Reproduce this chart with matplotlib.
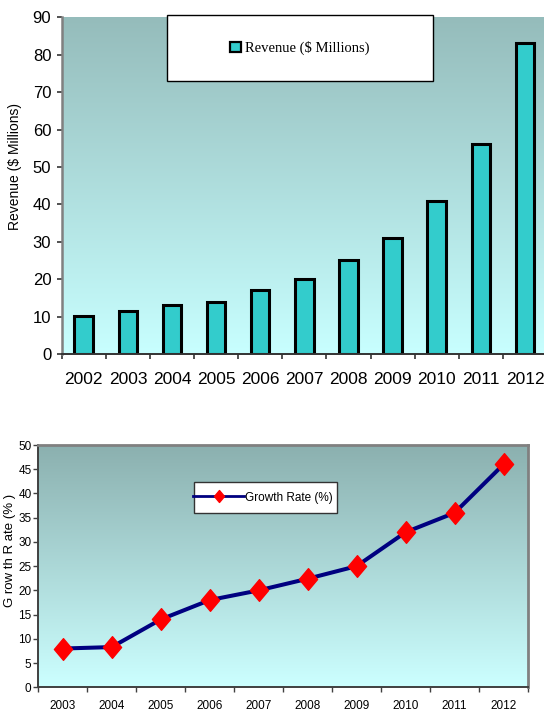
import numpy as np
import matplotlib
matplotlib.use("Agg")
import matplotlib.pyplot as plt
from matplotlib import font_manager
from matplotlib.patches import Rectangle, Patch
from matplotlib.lines import Line2D
from matplotlib.path import Path
from matplotlib.colors import LinearSegmentedColormap

# ---- data ----
revenue_years = ["2002", "2003", "2004", "2005", "2006", "2007",
                 "2008", "2009", "2010", "2011", "2012"]
revenue = [10.2, 11.5, 13, 14, 17, 20, 25, 31, 41, 56, 83]

growth_years = ["2003", "2004", "2005", "2006", "2007",
                "2008", "2009", "2010", "2011", "2012"]
growth = [8, 8.3, 14, 18, 20, 22.4, 25, 32, 36, 46]

# ---- fonts ----
installed = {f.name for f in font_manager.fontManager.ttflist}
SANS = "Liberation Sans"
SERIF = "Liberation Serif"
NARROW = "Liberation Sans Narrow" if "Liberation Sans Narrow" in installed else "Liberation Sans"

W, H = 544, 713
fig = plt.figure(figsize=(W / 100, H / 100), dpi=100)


def gradient_background(ax, top_color, bottom_color):
    cmap = LinearSegmentedColormap.from_list("bg", [bottom_color, top_color])
    grad = np.linspace(0, 1, 256).reshape(-1, 1)
    x0, x1 = ax.get_xlim()
    y0, y1 = ax.get_ylim()
    ax.imshow(grad, cmap=cmap, origin="lower", aspect="auto",
              extent=[x0, x1, y0, y1], zorder=0, interpolation="bilinear")
    ax.set_xlim(x0, x1)
    ax.set_ylim(y0, y1)


# ================= Revenue bar chart =================
ax1 = fig.add_axes([61.7 / W, 1 - 354 / H, (547 - 61.7) / W, (354 - 17.3) / H])
x1 = np.arange(len(revenue_years))
ax1.set_xlim(-0.5, len(revenue_years) - 0.5)
ax1.set_ylim(0, 90)
gradient_background(ax1, "#95BCBB", "#C8FFFF")

ax1.bar(x1, revenue, width=0.42, color="#33CCCC", edgecolor="black",
        linewidth=2.2, zorder=2)

for side in ("top", "right"):
    ax1.spines[side].set_visible(False)
ax1.spines["left"].set_color("#808080")
ax1.spines["left"].set_linewidth(1.8)
ax1.spines["bottom"].set_color("#333333")
ax1.spines["bottom"].set_linewidth(1.4)
ax1.spines["left"].set_zorder(3)
ax1.spines["bottom"].set_zorder(3)

ax1.set_yticks(range(0, 91, 10))
ax1.tick_params(axis="y", direction="out", length=3.5, width=1.2,
                color="#333333", pad=4, labelsize=12, labelfontfamily=SANS)
ax1.set_xticks(x1, revenue_years)
ax1.tick_params(axis="x", which="major", length=0, pad=13, labelsize=12.5,
                labelfontfamily=SANS)
ax1.set_xticks(np.arange(-0.5, len(revenue_years), 1), minor=True)
ax1.tick_params(axis="x", which="minor", direction="out", length=3.6,
                width=1.2, color="#333333")

fig.text(15 / W, 1 - 167 / H, "Revenue ($ Millions)", rotation=90,
         ha="center", va="center", fontsize=10, family=SANS)

# legend box
fig.add_artist(Rectangle((167 / W, 1 - 81 / H), (433 - 167) / W, 66 / H,
                         transform=fig.transFigure, facecolor="white",
                         edgecolor="black", linewidth=1.0, zorder=4))
leg1 = fig.legend(handles=[Patch(facecolor="#33CCCC", edgecolor="black", linewidth=1.6)],
                  labels=["Revenue ($ Millions)"], loc="center",
                  bbox_to_anchor=(300 / W, 1 - 48 / H), frameon=False,
                  prop={"family": SERIF, "size": 10.5}, handlelength=0.7,
                  handleheight=0.7, handletextpad=0.3)
leg1.set_zorder(5)

# ================= Growth rate line chart =================
ax2 = fig.add_axes([38.3 / W, 1 - 687.3 / H, (528 - 38.3) / W, (687.3 - 445) / H])
x2 = np.arange(len(growth_years))
ax2.set_xlim(-0.5, len(growth_years) - 0.5)
ax2.set_ylim(0, 50)
gradient_background(ax2, "#8BB0AF", "#CCFFFF")

diamond = Path([(0, 1), (0.84, 0), (0, -1), (-0.84, 0), (0, 1)],
               [Path.MOVETO, Path.LINETO, Path.LINETO, Path.LINETO, Path.CLOSEPOLY])

ax2.plot(x2, growth, color="#000080", linewidth=2.9, marker=diamond,
         markersize=15.6, markerfacecolor="red", markeredgecolor="red",
         zorder=3, clip_on=False)

for side in ("top", "right"):
    ax2.spines[side].set_color("#808080")
    ax2.spines[side].set_linewidth(2.0)
for side in ("left", "bottom"):
    ax2.spines[side].set_color("#404040")
    ax2.spines[side].set_linewidth(1.4)

ax2.set_yticks(range(0, 51, 5))
ax2.tick_params(axis="y", direction="out", length=3.4, width=1.0,
                color="#404040", pad=1.5, labelsize=8.5, labelfontfamily=NARROW)
ax2.set_xticks(x2, growth_years)
ax2.tick_params(axis="x", which="major", length=0, pad=9.5, labelsize=8.5,
                labelfontfamily=NARROW)
ax2.set_xticks(np.arange(-0.5, len(growth_years), 1), minor=True)
ax2.tick_params(axis="x", which="minor", direction="out", length=3.6,
                width=1.0, color="#404040")

fig.text(10 / W, 1 - 550 / H, "G row th R ate (% )", rotation=90,
         ha="center", va="center", fontsize=9.5, family=NARROW)

fig.add_artist(Rectangle((194 / W, 1 - 513 / H), (337 - 194) / W, 31 / H,
                         transform=fig.transFigure, facecolor="white",
                         edgecolor="#333333", linewidth=1.0, zorder=4))
growth_handle = Line2D([], [], color="#000080", linewidth=2.0, marker=diamond,
                       markersize=8.6, markerfacecolor="red", markeredgecolor="red")
leg2 = fig.legend(handles=[growth_handle], labels=["Growth Rate (%)"],
                  loc="center", bbox_to_anchor=(263 / W, 1 - 497.5 / H),
                  frameon=False, prop={"family": NARROW, "size": 8.5},
                  handlelength=4.3, handletextpad=0.1)
leg2.set_zorder(5)

fig.savefig("out.png", dpi=100, facecolor="white")
